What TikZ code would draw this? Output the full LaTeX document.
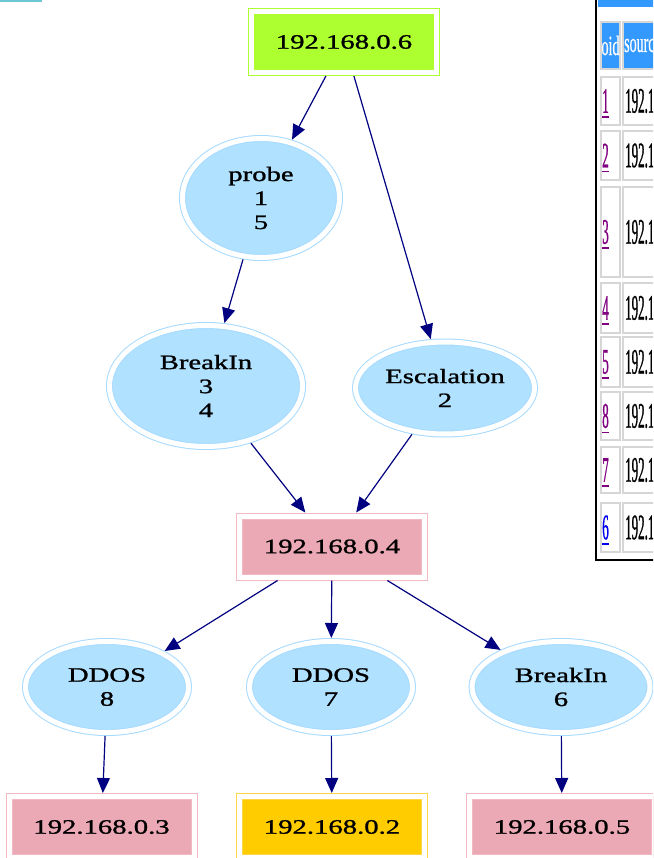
\documentclass[tikz,border=0pt]{standalone}
\usepackage{fontspec}
\setmainfont{Liberation Serif}
\newfontfamily\gvfont[FakeStretch=1.4,FakeBold=1.2]{Liberation Serif}
\newfontfamily\cellfont[FakeStretch=0.36,FakeBold=0.6]{Liberation Serif}
\newfontfamily\headfont[FakeStretch=0.5,FakeBold=0.4]{Liberation Serif}
\usetikzlibrary{arrows.meta,shapes.geometric}

\definecolor{gvgreen}{HTML}{ADFF2F}
\definecolor{gvpink}{HTML}{EBA8B5}
\definecolor{gvpinkline}{HTML}{F2B8C4}
\definecolor{gvgold}{HTML}{FFCC00}
\definecolor{gvgoldline}{HTML}{FFD64A}
\definecolor{gvsky}{HTML}{B0E2FF}
\definecolor{gvskyline}{HTML}{A6DAFF}
\definecolor{gvnavy}{HTML}{000080}
\definecolor{tabblue}{HTML}{3399FF}
\definecolor{cellgray}{HTML}{D6D6D6}
\definecolor{visited}{HTML}{800080}
\definecolor{linkblue}{HTML}{0000EE}
\definecolor{barteal}{HTML}{6CC8D4}

\tikzset{
  gvtext/.style={font=\gvfont\fontsize{20.5}{24}\selectfont, align=center, text=black},
  hostbox/.style={gvtext, rectangle, minimum width=185pt, minimum height=61pt,
    inner sep=0pt, line width=1pt, double distance=5pt, outer sep=3.5pt},
  pinkhost/.style={hostbox, draw=gvpinkline, double=white, fill=gvpink},
  greenhost/.style={hostbox, draw=gvgreen, double=white, fill=gvgreen},
  goldhost/.style={hostbox, draw=gvgoldline, double=white, fill=gvgold},
  attack/.style={gvtext, ellipse, draw=gvskyline, double=white, fill=gvsky,
    line width=1pt, double distance=5pt, inner sep=0pt, outer sep=3.5pt},
  flow/.style={draw=gvnavy, line width=1.2pt, -{Triangle[length=15pt,width=13pt]}},
  cell/.style={draw=cellgray, line width=1.5pt},
  headcell/.style={cell, fill=tabblue},
  headtext/.style={font=\headfont\fontsize{28}{30}\selectfont, text=white, inner sep=0pt},
  celltext/.style={font=\cellfont\fontsize{36}{38}\selectfont, text=black, inner sep=0pt},
}

\begin{document}
\begin{tikzpicture}[x=1pt,y=-1pt]
\useasboundingbox (0,0) rectangle (653,858);
\clip (0,0) rectangle (653,858);

% thin bar in the top left corner
\fill[barteal] (0,0) rectangle (42,2.5);

% attack graph: hosts and attack steps
\node[greenhost] (h6) at (344,42) {192.168.0.6};
\node[attack, minimum width=157pt, minimum height=119pt] (probe) at (261,198) {probe\\1\\5};
\node[attack, minimum width=193pt, minimum height=121pt] (brk34) at (206,386) {BreakIn\\3\\4};
\node[attack, minimum width=179pt, minimum height=92pt] (esc) at (445,388) {Escalation\\2};
\node[pinkhost] (h4) at (332,546.5) {192.168.0.4};
\node[attack, minimum width=163pt, minimum height=91pt] (ddos8) at (107,687) {DDOS\\8};
\node[attack, minimum width=163pt, minimum height=91pt] (ddos7) at (331,687) {DDOS\\7};
\node[attack, minimum width=178pt, minimum height=91pt] (brk6) at (561,687) {BreakIn\\6};
\node[pinkhost] (h3) at (101.5,827) {192.168.0.3};
\node[goldhost] (h2) at (332,827) {192.168.0.2};
\node[pinkhost] (h5) at (562,827) {192.168.0.5};

\draw[flow] (h6) -- (probe);
\draw[flow] (h6) -- (esc);
\draw[flow] (probe) -- (brk34);
\draw[flow] (brk34) -- (h4);
\draw[flow] (esc) -- (h4);
\draw[flow] (h4) -- (ddos8);
\draw[flow] (h4) -- (ddos7);
\draw[flow] (h4) -- (brk6);
\draw[flow] (ddos8) -- (h3);
\draw[flow] (ddos7) -- (h2);
\draw[flow] (brk6) -- (h5);

% alert table panel on the right
\fill[tabblue] (598,0) rectangle (660,7);
\draw[black, line width=2.5pt] (596,-2) -- (596,560) -- (660,560);
\draw[headcell] (601,22) rectangle (620,69);
\draw[headcell] (623,22) rectangle (662,69);
\node[headtext] (hoid) at (610.5,45.5) {oid};
\node[headtext, anchor=west] (hsrc) at (624,45.5) {sourc};

\foreach \t/\b/\n/\c in {77/125/1/visited, 131/180/2/visited, 187/277/3/visited,
    283/333/4/visited, 337/387/5/visited, 392/440/8/visited,
    447/493/7/visited, 503/552/6/linkblue} {
  \draw[cell] (601,\t) rectangle (620,\b);
  \draw[cell] (623,\t) rectangle (662,\b);
  \node[celltext, text=\c] (oid\n) at (605.5,{(\t+\b)/2}) {\n};
  \draw[\c, line width=1.6pt] ([xshift=-3.5pt,yshift=-4pt]oid\n.south) -- ([xshift=3.5pt,yshift=-4pt]oid\n.south);
  \node[celltext, anchor=west] (src\n) at (625,{(\t+\b)/2}) {192.1};
}
\end{tikzpicture}
\end{document}
